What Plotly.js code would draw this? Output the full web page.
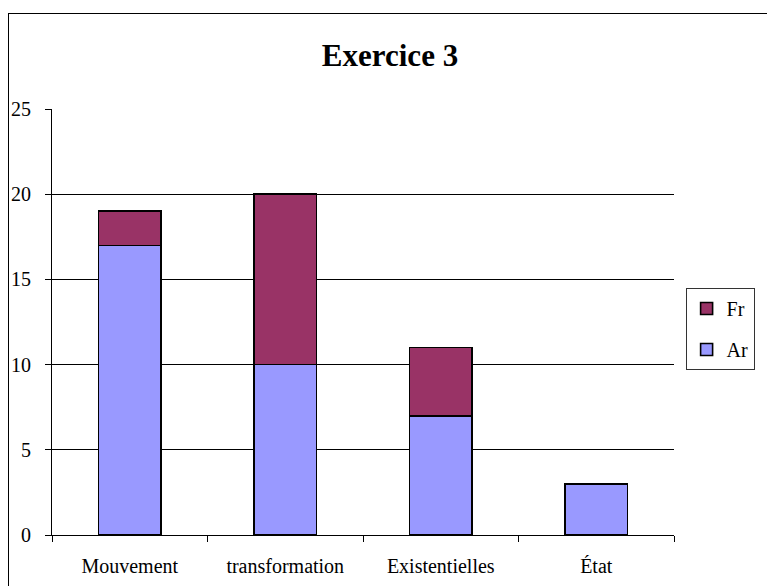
<!DOCTYPE html>
<html>
<head>
<meta charset="utf-8">
<script src="https://cdn.plot.ly/plotly-3.0.1.min.js"></script>
<style>
  html, body { margin: 0; padding: 0; background: #fff; overflow: hidden; }
  #wrap { position: relative; width: 767px; height: 586px; }
  #chart { position: absolute; left: 0; top: 0; width: 767px; height: 586px; }
  #frame { position: absolute; left: 8px; top: 13px; width: 800px; height: 620px;
           border-left: 1.5px solid #000; border-top: 1.5px solid #000; pointer-events: none; }
</style>
</head>
<body>
<div id="wrap">
  <div id="chart"></div>
  <div id="frame"></div>
</div>
<script>
const categories = ["Mouvement", "transformation", "Existentielles", "\u00C9tat"];
const arValues = [17, 10, 7, 3];
const frValues = [2, 10, 4, 0];
const yTickValues = [0, 5, 10, 15, 20, 25];
const chartTitle = "Exercice 3";

const FONT = "Liberation Serif, Times New Roman, serif";

const traces = [
  {
    type: "bar", name: "Ar", x: categories, y: arValues, legendgroup: "ar", legendrank: 2,
    marker: { color: "#9999FF", line: { color: "#000", width: 1.6 } }
  },
  {
    type: "bar", name: "Fr", x: categories, y: frValues, legendgroup: "fr", legendrank: 1,
    marker: { color: "#993366", line: { color: "#000", width: 1.6 } }
  }
];

const layout = {
  width: 767, height: 586,
  margin: { l: 52, r: 72, t: 109, b: 51 },
  paper_bgcolor: "#fff", plot_bgcolor: "#fff",
  barmode: "stack",
  bargap: 0.6,
  font: { family: FONT, size: 20, color: "#000" },
  title: {
    text: "<b>" + chartTitle + "</b>",
    font: { family: FONT, size: 31, color: "#000" },
    xref: "container", x: 390 / 767, xanchor: "center",
    yref: "container", y: 1 - 55 / 586, yanchor: "middle"
  },
  xaxis: {
    type: "category",
    range: [-0.5, 3.5],
    showline: true, linecolor: "#000", linewidth: 1,
    ticks: "outside", tickson: "boundaries", ticklen: 6, tickcolor: "#000", tickwidth: 1,
    showgrid: false, zeroline: false,
    tickfont: { family: FONT, size: 20, color: "#000" },
    ticklabelstandoff: 13
  },
  yaxis: {
    range: [0, 25],
    tickvals: yTickValues,
    showline: true, linecolor: "#000", linewidth: 1,
    ticks: "outside", ticklen: 6, tickcolor: "#000", tickwidth: 1,
    showgrid: true, gridcolor: "#000", gridwidth: 1,
    zeroline: false,
    tickfont: { family: FONT, size: 20, color: "#000" },
    ticklabelstandoff: 10
  },
  showlegend: true,
  legend: {
    x: (707 - 52) / 643, xanchor: "left",
    y: (535 - 288) / 426, yanchor: "top",
    bordercolor: "#333", borderwidth: 1, bgcolor: "#fff",
    traceorder: "grouped", tracegroupgap: 12,
    itemwidth: 30,
    font: { family: FONT, size: 20, color: "#000" }
  }
};

Plotly.newPlot("chart", traces, layout, { displayModeBar: false, staticPlot: true });
</script>
</body>
</html>
